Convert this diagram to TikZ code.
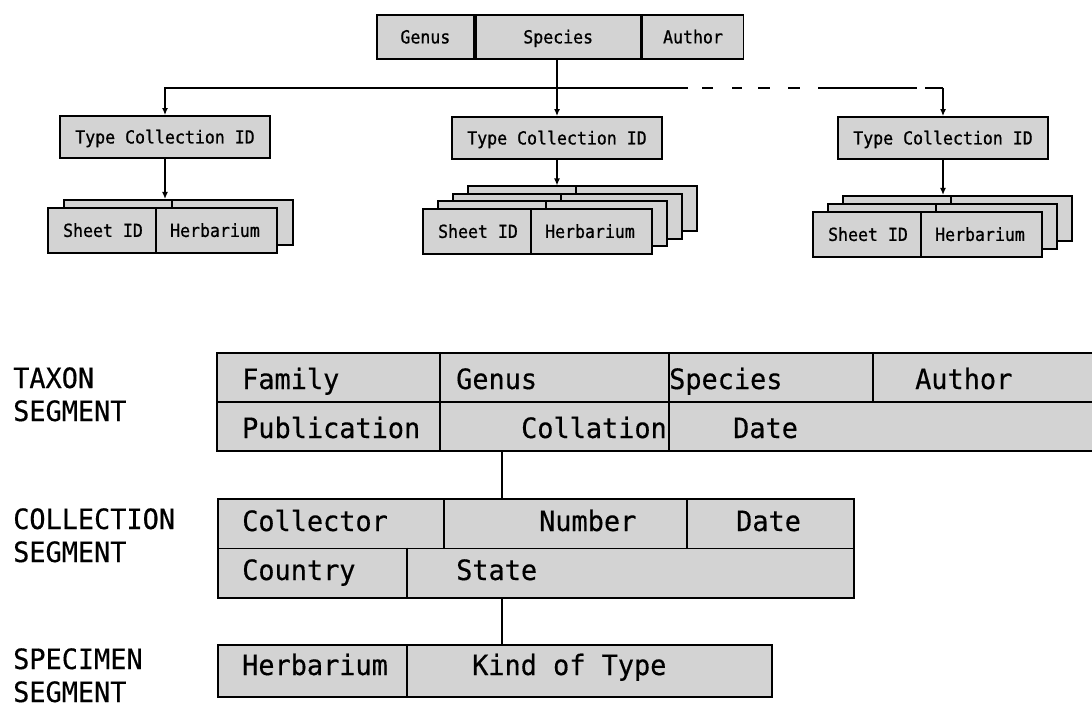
\documentclass[tikz,border=0pt]{standalone}
\usepackage{fontspec}
\newfontfamily\topfont[FakeStretch=0.92, FakeBold=0.8]{DejaVu Sans Mono}
\newfontfamily\segfont[FakeStretch=0.96, FakeBold=0.4]{DejaVu Sans Mono}
\usetikzlibrary{arrows.meta}
\definecolor{boxgray}{RGB}{211,211,211}

\begin{document}
\begin{tikzpicture}[x=1pt, y=-1pt,
    box/.style={draw=black, fill=boxgray, line width=1.8pt, inner sep=0pt},
    smalltxt/.style={font=\topfont\fontsize{18}{20}\selectfont, text height=13pt, text depth=0pt},
    topcell/.style={box, smalltxt, minimum height=44pt},
    typebox/.style={box, smalltxt, minimum width=210pt, minimum height=42pt},
    sheet/.style={box, anchor=north west, minimum width=229pt, minimum height=45pt,
        path picture={\draw[line width=1.8pt] ([xshift=108pt]path picture bounding box.north west)
            -- ([xshift=108pt]path picture bounding box.south west);}},
    segbox/.style={box, anchor=north west},
    cellline/.style={line width=1.8pt},
    field/.style={font=\segfont\fontsize{28}{33}\selectfont, inner sep=0pt, anchor=base west},
    seglabel/.style={field, align=left},
    link/.style={line width=1.8pt},
    tip/.style={-{Latex[length=7pt,width=6pt]}}
]
    \clip (0,0) rectangle (1092,708);

    % name record at the top
    \node[topcell, minimum width=97pt, anchor=north west] (tgenus) at (376,14) {Genus};
    \node[topcell, minimum width=165pt, anchor=west] (tspecies) at (tgenus.east) {Species};
    \node[topcell, minimum width=101pt, anchor=west] (tauthor) at (tspecies.east) {Author};

    % type collections
    \node[typebox] (ltype) at (165,137) {Type Collection ID};
    \node[typebox] (mtype) at (557,138) {Type Collection ID};
    \node[typebox] (rtype) at (943,138) {Type Collection ID};

    \coordinate (bus) at (0,88);
    \coordinate (dashstart) at (688,88);
    \draw[link, tip] (dashstart) -- (ltype.north |- bus) -- (ltype.north);
    \draw[link, tip] (mtype.north |- tspecies.south) -- (mtype.north);
    \draw[link, dash pattern=on 0pt off 14pt on 11pt off 19pt on 10pt off 16pt on 12pt off 18pt on 12pt off 18pt on 99pt off 8pt on 30pt]
        (dashstart) -- (rtype.north |- bus);
    \draw[link, tip] (rtype.north |- bus) -- (rtype.north);

    % sheet stacks, back to front
    \node[sheet] (lsheet1) at (63,199) {};
    \node[sheet] (lsheet0) at (47,207) {};
    \node[smalltxt] (lsid) at ([xshift=56pt]lsheet0.west) {Sheet ID};
    \node[smalltxt] (lherb) at ([xshift=168pt]lsheet0.west) {Herbarium};

    \node[sheet] (msheet3) at (467,185.5) {};
    \node[sheet] (msheet2) at (452,193) {};
    \node[sheet] (msheet1) at (437,200.5) {};
    \node[sheet] (msheet0) at (422,208) {};
    \node[smalltxt] (msid) at ([xshift=56pt]msheet0.west) {Sheet ID};
    \node[smalltxt] (mherb) at ([xshift=168pt]msheet0.west) {Herbarium};

    \node[sheet] (rsheet2) at (842,195) {};
    \node[sheet] (rsheet1) at (827,203) {};
    \node[sheet] (rsheet0) at (812,211) {};
    \node[smalltxt] (rsid) at ([xshift=56pt]rsheet0.west) {Sheet ID};
    \node[smalltxt] (rherb) at ([xshift=168pt]rsheet0.west) {Herbarium};

    \draw[link, tip] (ltype.south) -- (ltype.south |- lsheet1.north);
    \draw[link, tip] (mtype.south) -- (mtype.south |- msheet3.north);
    \draw[link, tip] (rtype.south) -- (rtype.south |- rsheet2.north);

    % segments
    \node[seglabel] (taxlabel) at (13,421) {TAXON\\SEGMENT};
    \node[seglabel] (colllabel) at (13,562) {COLLECTION\\SEGMENT};
    \node[seglabel] (speclabel) at (13,702) {SPECIMEN\\SEGMENT};

    \node[segbox, minimum width=884pt, minimum height=98pt] (taxon) at (216,352) {};
    \draw[cellline] (taxon.west) -- (taxon.east);
    \draw[cellline] (440,352) -- (440,450);
    \draw[cellline] (669,352) -- (669,450);
    \draw[cellline] (873,352) -- (873,401);
    \node[field] (tfamily) at (242,389) {Family};
    \node[field] (tgenus2) at (456,389) {Genus};
    \node[field] (tspecies2) at (669,389) {Species};
    \node[field] (tauthor2) at (915,389) {Author};
    \node[field] (tpubl) at (242,438) {Publication};
    \node[field, anchor=base east] (tcoll) at (667,438) {Collation};
    \node[field] (tdate) at (733,438) {Date};

    \node[segbox, minimum width=636pt, minimum height=99pt] (coll) at (217,498) {};
    \draw[cellline] (coll.west) -- (coll.east);
    \draw[cellline] (444,498) -- (444,547.5);
    \draw[cellline] (687,498) -- (687,547.5);
    \draw[cellline] (407,547.5) -- (407,597);
    \node[field] (ccollector) at (242,531) {Collector};
    \node[field] (cnumber) at (539,531) {Number};
    \node[field] (cdate) at (736,531) {Date};
    \node[field] (ccountry) at (242,580) {Country};
    \node[field] (cstate) at (456,580) {State};

    \node[segbox, minimum width=554pt, minimum height=52pt] (spec) at (217,644) {};
    \draw[cellline] (407,644) -- (407,696);
    \node[field] (sherb) at (242,675) {Herbarium};
    \node[field] (skind) at (472,675) {Kind of Type};

    \coordinate (spine) at (502,0);
    \draw[link] (taxon.south -| spine) -- (coll.north -| spine);
    \draw[link] (coll.south -| spine) -- (spec.north -| spine);
\end{tikzpicture}
\end{document}
